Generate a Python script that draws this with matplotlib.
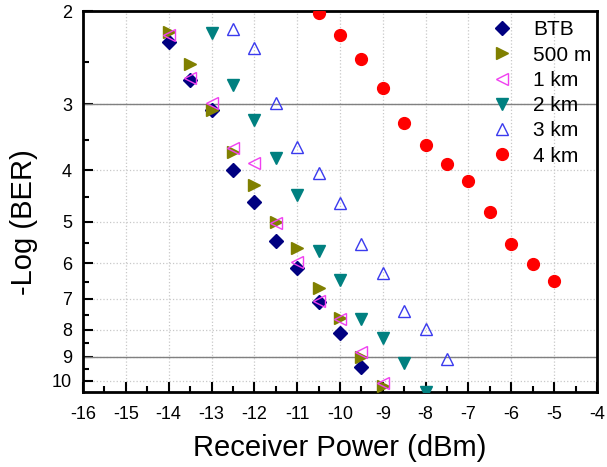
import matplotlib

matplotlib.use("Agg")
import matplotlib.pyplot as plt
from matplotlib.ticker import FixedLocator, FixedFormatter, NullFormatter

plt.rcParams["font.family"] = ["Liberation Sans", "DejaVu Sans"]
plt.rcParams["axes.unicode_minus"] = False

# received power (dBm) and -log(BER)
btb_x = [-14, -13.5, -13, -12.5, -12, -11.5, -11, -10.5, -10, -9.5]
btb_y = [2.29, 2.70, 3.08, 4.00, 4.59, 5.44, 6.12, 7.10, 8.12, 9.42]

m500_x = [-14, -13.5, -13, -12.5, -12, -11.5, -11, -10.5, -10, -9.5, -9]
m500_y = [2.19, 2.52, 3.08, 3.69, 4.27, 5.01, 5.61, 6.68, 7.61, 9.02, 10.23]

km1_x = [-14, -13.5, -13, -12.5, -12, -11.5, -11, -10.5, -10, -9.5, -9]
km1_y = [2.22, 2.68, 2.98, 3.63, 3.88, 5.03, 5.96, 7.07, 7.65, 8.83, 10.1]

km2_x = [-13, -12.5, -12, -11.5, -11, -10.5, -10, -9.5, -9, -8.5, -8]
km2_y = [2.20, 2.76, 3.22, 3.79, 4.45, 5.69, 6.45, 7.65, 8.30, 9.26, 10.5]

km3_x = [-12.5, -12, -11.5, -11, -10.5, -10, -9.5, -9, -8.5, -8, -7.5]
km3_y = [2.16, 2.35, 2.98, 3.62, 4.05, 4.61, 5.51, 6.26, 7.38, 7.99, 9.10]

km4_x = [-10.5, -10, -9.5, -9, -8.5, -8, -7.5, -7, -6.5, -6, -5.5, -5]
km4_y = [2.02, 2.22, 2.46, 2.80, 3.26, 3.58, 3.89, 4.19, 4.80, 5.51, 6.02, 6.48]

y_ticks = [2, 3, 4, 5, 6, 7, 8, 9, 10]
y_minor = [2.5, 3.5, 4.5, 5.5, 6.5, 7.5, 8.5, 9.5]
x_ticks = list(range(-16, -3))

fig = plt.figure(figsize=(6.07, 4.67), dpi=100)
ax = fig.add_axes([83 / 607, 1 - 392 / 467, 514 / 607, 381 / 467])

ax.plot(btb_x, btb_y, ls="none", marker="D", ms=7, color="#000080", label="BTB", zorder=3)
ax.plot(m500_x, m500_y, ls="none", marker=">", ms=9, color="#808000", label="500 m", zorder=3)
ax.plot(km1_x, km1_y, ls="none", marker="<", ms=9, mfc="none", mec="#f040f0", mew=1.0,
        label="1 km", zorder=4)
ax.plot(km2_x, km2_y, ls="none", marker="v", ms=9, color="#008080", label="2 km", zorder=3)
ax.plot(km3_x, km3_y, ls="none", marker="^", ms=9, mfc="none", mec="#3a3aee", mew=1.0,
        label="3 km", zorder=3)
ax.plot(km4_x, km4_y, ls="none", marker="o", ms=8.5, color="#ff0000", label="4 km", zorder=3)

# FEC / error-free reference levels
ax.axhline(3, color="#808080", lw=1.0, zorder=2)
ax.axhline(9, color="#808080", lw=1.0, zorder=2)

ax.set_yscale("log")
ax.set_ylim(10.5, 2)
ax.set_xlim(-16, -4)
ax.yaxis.set_major_locator(FixedLocator(y_ticks))
ax.yaxis.set_major_formatter(FixedFormatter([str(v) for v in y_ticks]))
ax.yaxis.set_minor_locator(FixedLocator(y_minor))
ax.yaxis.set_minor_formatter(NullFormatter())
ax.set_xticks(x_ticks)
ax.set_xticks([v + 0.5 for v in x_ticks[:-1]], minor=True)

ax.grid(True, which="major", ls=":", color="#c8c8c8", lw=0.9, zorder=0)
ax.set_axisbelow(True)

ax.tick_params(which="both", direction="in", top=False, right=False, labelsize=13, width=1.5)
ax.tick_params(which="major", length=7)
ax.tick_params(which="minor", length=4)
ax.tick_params(axis="x", pad=10)
ax.tick_params(axis="y", pad=8)
for sp in ax.spines.values():
    sp.set_linewidth(2)

ax.set_xlabel("Receiver Power (dBm)", fontsize=21, labelpad=8)
ax.set_ylabel("-Log (BER)", fontsize=21)
ax.yaxis.set_label_coords(-0.088, 0.446)

ax.legend(loc="upper right", frameon=False, fontsize=15, handlelength=1.0,
          handletextpad=1.0, labelspacing=0.3, borderpad=0.45, borderaxespad=0.0,
          bbox_to_anchor=(1.008, 1.0))

fig.savefig("out.png", dpi=100)
